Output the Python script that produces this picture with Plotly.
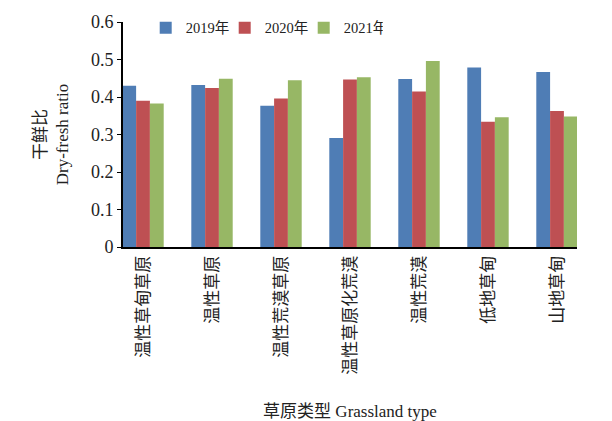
import plotly.graph_objects as go

categories = ["温性草甸草原", "温性草原", "温性荒漠草原", "温性草原化荒漠", "温性荒漠", "低地草甸", "山地草甸"]
years = ["2019年", "2020年", "2021年"]
v2019 = [0.430, 0.432, 0.377, 0.291, 0.448, 0.479, 0.467]
v2020 = [0.390, 0.424, 0.396, 0.447, 0.415, 0.334, 0.363]
v2021 = [0.383, 0.449, 0.445, 0.453, 0.496, 0.346, 0.348]
yticks = [0, 0.1, 0.2, 0.3, 0.4, 0.5, 0.6]
yticklabels = ["0", "0.1", "0.2", "0.3", "0.4", "0.5", "0.6"]

colors = ["#4F7DB5", "#BE5053", "#97B765"]
FONT = "Liberation Serif, Noto Sans CJK SC, serif"

fig = go.Figure()
for name, vals, c in zip(years, [v2019, v2020, v2021], colors):
    fig.add_trace(go.Bar(x=list(range(len(categories))), y=vals, name=name,
                         marker=dict(color=c, line=dict(width=0))))

fig.update_layout(
    width=612, height=421,
    margin=dict(l=123, r=35, t=19, b=174),
    paper_bgcolor="white", plot_bgcolor="white",
    barmode="group", bargap=0.4, bargroupgap=0,
    font=dict(family=FONT, color="#222", size=15),
    showlegend=True,
    legend=dict(orientation="h", x=0.05, y=1.045, xanchor="left", yanchor="top",
                font=dict(size=14.5, family=FONT), bgcolor="rgba(0,0,0,0)",
                traceorder="normal", itemwidth=30,
                entrywidth=34, entrywidthmode="pixels"),
)
fig.update_xaxes(
    range=[-0.29, 6.29], automargin=False,
    tickmode="array", tickvals=list(range(len(categories))), ticktext=categories,
    tickangle=-90, tickfont=dict(size=17, family=FONT),
    showline=True, linecolor="black", linewidth=2, ticks="", showgrid=False,
    zeroline=False,
    title=dict(text="草原类型 Grassland type", font=dict(size=17, family=FONT), standoff=36),
)
fig.update_yaxes(
    range=[0, 0.6], automargin=False,
    tickmode="array", tickvals=yticks, ticktext=yticklabels,
    tickfont=dict(size=18, family=FONT),
    showline=True, linecolor="black", linewidth=2, ticks="outside", ticklen=4,
    tickcolor="black", tickwidth=1, showgrid=False, zeroline=False,
    title=dict(text="干鲜比<br>Dry-fresh ratio", font=dict(size=17, family=FONT), standoff=18),
)
fig.write_html("out.html")
